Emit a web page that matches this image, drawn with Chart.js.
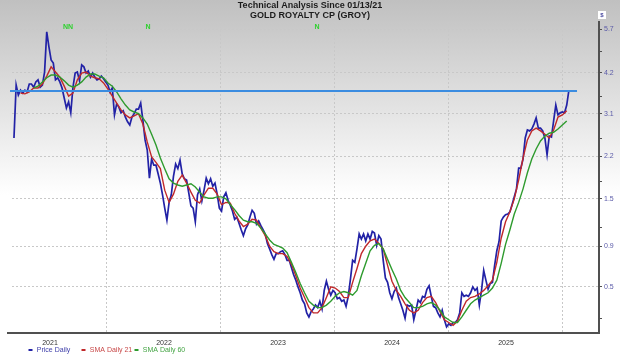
<!DOCTYPE html>
<html><head><meta charset="utf-8">
<script src="https://cdn.jsdelivr.net/npm/chart.js@4.4.1/dist/chart.umd.min.js"></script>
<style>
html,body{margin:0;padding:0;background:#fff}
canvas{display:block;background:linear-gradient(to bottom,#c0c0c0 0px,#ffffff 195px,#ffffff 355px)}
</style>
</head><body>
<canvas id="c" width="620" height="355"></canvas>
<script>
// ---------- DATA ----------
const titleLines = ['Technical Analysis Since 01/13/21', 'GOLD ROYALTY CP (GROY)'];

// weekly samples (decimal years)
const weekStep = 7 / 365.25;
const priceStartYear = 2021.184;
const sma21StartYear = priceStartYear + 3 * weekStep;
const sma60StartYear = priceStartYear + 9 * weekStep;

const priceValues = [
2.56,3.84,3.57,3.70,3.62,3.70,3.65,3.87,3.87,3.78,
3.93,3.99,3.78,3.84,4.22,5.59,5.04,4.60,4.50,3.99,
4.05,3.93,3.76,3.49,3.24,3.39,3.12,3.78,4.19,4.22,
3.96,4.44,4.38,4.19,4.25,4.07,4.19,4.07,3.99,4.02,
4.10,4.02,3.93,3.84,3.65,3.76,3.07,3.34,3.26,3.12,
3.17,3.02,2.91,2.84,3.02,3.10,3.21,3.21,3.36,2.95,
2.52,2.32,1.82,2.15,2.04,2.04,1.89,1.74,1.56,1.37,
1.21,1.45,1.56,1.85,2.06,1.98,2.13,1.89,1.81,1.79,
1.59,1.40,1.37,1.19,1.56,1.65,1.47,1.63,1.82,1.73,
1.81,1.69,1.74,1.57,1.37,1.33,1.53,1.59,1.48,1.41,
1.33,1.22,1.25,1.17,1.09,1.02,1.10,1.15,1.25,1.34,
1.30,1.16,1.20,1.14,1.09,1.04,0.93,0.87,0.81,0.76,
0.82,0.82,0.84,0.85,0.81,0.75,0.75,0.68,0.61,0.56,
0.50,0.45,0.39,0.36,0.29,0.26,0.30,0.32,0.35,0.33,
0.38,0.32,0.47,0.55,0.48,0.43,0.47,0.45,0.40,0.41,
0.38,0.39,0.34,0.42,0.57,0.75,0.73,0.87,1.04,0.98,
1.04,0.96,1.04,0.98,1.07,1.05,0.91,1.02,0.98,0.75,
0.58,0.54,0.45,0.40,0.46,0.49,0.41,0.36,0.31,0.25,
0.35,0.34,0.35,0.24,0.31,0.39,0.37,0.42,0.41,0.48,
0.51,0.42,0.34,0.33,0.29,0.26,0.31,0.24,0.19,0.21,
0.20,0.22,0.22,0.24,0.29,0.45,0.42,0.43,0.42,0.45,
0.50,0.47,0.49,0.35,0.47,0.65,0.56,0.48,0.53,0.54,
0.70,0.85,0.95,1.20,1.25,1.28,1.29,1.32,1.42,1.53,
1.65,1.99,1.99,2.15,2.56,2.73,2.71,2.75,2.86,3.00,
2.77,2.77,2.71,2.56,2.23,2.60,2.58,2.93,3.31,3.07,
3.12,3.14,3.12,3.31,3.70
];

// SMA values, every second week
const sma21Values = [
3.62,3.60,3.65,3.76,3.76,3.87,4.10,4.38,4.22,4.07,
3.81,3.54,3.62,3.99,4.19,4.22,4.10,4.05,4.02,3.90,
3.73,3.54,3.36,3.19,3.07,3.00,3.05,3.10,2.86,2.48,
2.19,2.09,1.98,1.63,1.45,1.57,1.77,1.87,1.74,1.60,
1.48,1.44,1.56,1.66,1.66,1.57,1.42,1.45,1.44,1.30,
1.20,1.13,1.16,1.22,1.21,1.11,1.02,0.90,0.84,0.82,
0.82,0.79,0.71,0.60,0.49,0.41,0.33,0.29,0.29,0.33,
0.41,0.50,0.49,0.46,0.41,0.41,0.54,0.67,0.82,0.90,
0.96,0.98,0.93,0.87,0.70,0.55,0.47,0.42,0.36,0.31,
0.29,0.31,0.37,0.41,0.42,0.37,0.30,0.24,0.22,0.20,
0.23,0.31,0.38,0.41,0.42,0.44,0.47,0.51,0.56,0.73,
0.99,1.19,1.32,1.50,1.79,2.17,2.52,2.71,2.77,2.71,
2.64,2.56,2.73,3.02,3.07,3.17
];
const sma60Values = [
3.76,3.81,3.93,4.05,4.13,4.13,4.07,3.96,3.84,3.78,
3.84,3.93,4.07,4.16,4.16,4.10,4.05,3.90,3.81,3.65,
3.47,3.31,3.19,3.14,3.10,3.00,2.86,2.64,2.42,2.17,
1.98,1.81,1.74,1.71,1.69,1.71,1.73,1.68,1.60,1.53,
1.51,1.51,1.53,1.53,1.50,1.42,1.35,1.27,1.21,1.19,
1.19,1.17,1.11,1.04,0.97,0.92,0.90,0.88,0.83,0.73,
0.63,0.53,0.45,0.38,0.35,0.33,0.33,0.35,0.38,0.42,
0.45,0.46,0.45,0.43,0.47,0.60,0.72,0.85,0.91,0.93,
0.87,0.76,0.66,0.57,0.47,0.41,0.37,0.33,0.33,0.34,
0.36,0.37,0.35,0.31,0.26,0.24,0.22,0.22,0.26,0.31,
0.36,0.39,0.41,0.43,0.45,0.49,0.56,0.72,0.92,1.09,
1.29,1.45,1.65,1.91,2.15,2.34,2.50,2.60,2.66,2.68,
2.75,2.84,2.93
];

const resistanceLevel = 3.68;
const resistanceEndYear = 2026.123;

const seriesLabels = ['Price Daily', 'SMA Daily 21', 'SMA Daily 60'];

const yMajorTicks = [5.7, 4.2, 3.1, 2.2, 1.5, 0.9, 0.5];
const yTickLabels = ['5.7', '4.2', '3.1', '2.2', '1.5', '0.9', '0.5'];
const yMinorTicks = [4.87, 3.54, 2.56, 1.76, 1.12, 0.25];
const yMin = 0.148, yMax = 5.98;

const xGridYears = [2022, 2023, 2024, 2025, 2026];
const xYearLabelPos = [2021.5, 2022.5, 2023.5, 2024.5, 2025.5];
const xYearLabels = ['2021', '2022', '2023', '2024', '2025'];
const xMin = 2021.1316, xMax = 2026.3158;

const markerDates = [2021.658, 2022.360, 2023.842];
const markerLabels = ['NN', 'N', 'N'];

// ---------- STYLE ----------
const FONT = '"Liberation Sans", Arial, sans-serif';
const lineColors = ['#2222a6', '#c0282a', '#2e9b2e'];
const legendTextColors = ['#4040aa', '#c84848', '#44a444'];
const legendX = [28.5, 81.5, 134.5];

// ---------- custom value scale: log(v+1) ----------
class OffsetLogScale extends Chart.LinearScale {
  buildTicks() {
    return yMajorTicks.concat(yMinorTicks).sort((a, b) => b - a).map(v => ({ value: v }));
  }
  _tr(v) { return Math.log(v + 1); }
  getPixelForValue(value) {
    const a = this._tr(this.min), b = this._tr(this.max);
    return this.getPixelForDecimal((this._tr(value) - a) / (b - a));
  }
  getValueForPixel(pixel) {
    const a = this._tr(this.min), b = this._tr(this.max);
    return Math.exp(a + this.getDecimalForPixel(pixel) * (b - a)) - 1;
  }
}
OffsetLogScale.id = 'offsetLog';
OffsetLogScale.defaults = Chart.LinearScale.defaults;
Chart.register(OffsetLogScale);

const decorPlugin = {
  id: 'decor',
  afterDraw(chart) {
    const { ctx, chartArea, scales } = chart;
    // keep the left edge of the plot open (no frame line there)
    ctx.clearRect(chartArea.left - 3, chartArea.top - 2, 4.5, chartArea.bottom - chartArea.top);
    ctx.save();
    ctx.font = 'bold 7px ' + FONT;
    ctx.fillStyle = '#2ed12e';
    ctx.textAlign = 'center';
    ctx.textBaseline = 'middle';
    markerDates.forEach((d, i) => ctx.fillText(markerLabels[i], scales.x.getPixelForValue(d), chartArea.top + 5));
    ctx.fillStyle = '#ffffff';
    ctx.fillRect(chartArea.right - 1, 11, 8, 8);
    ctx.fillStyle = '#4a4aa0';
    ctx.font = 'bold 6px ' + FONT;
    ctx.fillText('$', chartArea.right + 3, 15.5);
    ctx.font = '7px ' + FONT;
    ctx.textAlign = 'left';
    seriesLabels.forEach((lab, i) => {
      ctx.fillStyle = lineColors[i];
      ctx.fillRect(legendX[i], 349, 4, 2);
      ctx.fillStyle = legendTextColors[i];
      ctx.fillText(lab, legendX[i] + 8.3, 350);
    });
    ctx.restore();
  }
};

const pts = (vals, start, step) => vals.map((v, i) => ({ x: start + i * step, y: v }));

new Chart(document.getElementById('c'), {
  type: 'line',
  data: {
    datasets: [
      { label: 'resistance', data: [{ x: xMin, y: resistanceLevel }, { x: resistanceEndYear, y: resistanceLevel }],
        borderColor: '#3b8ce0', borderWidth: 2, pointRadius: 0 },
      { label: seriesLabels[2], data: pts(sma60Values, sma60StartYear, 2 * weekStep),
        borderColor: lineColors[2], borderWidth: 1.4, pointRadius: 0 },
      { label: seriesLabels[1], data: pts(sma21Values, sma21StartYear, 2 * weekStep),
        borderColor: lineColors[1], borderWidth: 1.4, pointRadius: 0 },
      { label: seriesLabels[0], data: pts(priceValues, priceStartYear, weekStep),
        borderColor: lineColors[0], borderWidth: 1.7, pointRadius: 0 }
    ]
  },
  options: {
    responsive: false, animation: false, devicePixelRatio: 1,
    layout: { padding: 0 },
    plugins: {
      legend: { display: false },
      tooltip: { enabled: false },
      title: { display: true, text: titleLines, color: '#1c1c1c',
        font: { family: FONT, size: 9, weight: 'bold', lineHeight: 1.15 },
        padding: { top: 0, bottom: 1.3 } }
    },
    scales: {
      x: {
        type: 'linear', min: xMin, max: xMax,
        afterBuildTicks: s => { s.ticks = xGridYears.concat(xYearLabelPos).sort((a, b) => a - b).map(v => ({ value: v })); },
        afterFit: s => { s.height = 22; },
        border: { display: true, color: '#505050', width: 2, dash: [2, 2] },
        grid: { drawTicks: false, lineWidth: 1,
          color: c => Number.isInteger(c.tick && c.tick.value) ? '#c8c8c8' : 'rgba(0,0,0,0)' },
        ticks: { autoSkip: false, maxRotation: 0, padding: 6, color: '#333333',
          font: { family: FONT, size: 7 },
          callback: v => { const k = xYearLabelPos.indexOf(v); return k >= 0 ? xYearLabels[k] : ''; } }
      },
      y: {
        type: 'offsetLog', position: 'right', min: yMin, max: yMax,
        afterFit: s => { s.width = 21; },
        border: { display: true, color: '#505050', width: 2, dash: [2, 2] },
        grid: { drawTicks: true, tickLength: 3, lineWidth: 1, tickColor: '#505050',
          color: c => (c.tick && yMajorTicks.indexOf(c.tick.value) >= 0) ? '#c8c8c8' : 'rgba(0,0,0,0)' },
        ticks: { autoSkip: false, padding: 2, color: '#5a5aa8',
          font: { family: FONT, size: 7 },
          callback: v => { const k = yMajorTicks.indexOf(v); return k >= 0 ? yTickLabels[k] : ''; } }
      },
      yPad: {
        type: 'linear', position: 'left', display: true,
        afterFit: s => { s.width = 8; },
        border: { display: false },
        grid: { display: false, drawTicks: false },
        ticks: { display: false }
      }
    }
  },
  plugins: [decorPlugin]
});
</script>
</body></html>
